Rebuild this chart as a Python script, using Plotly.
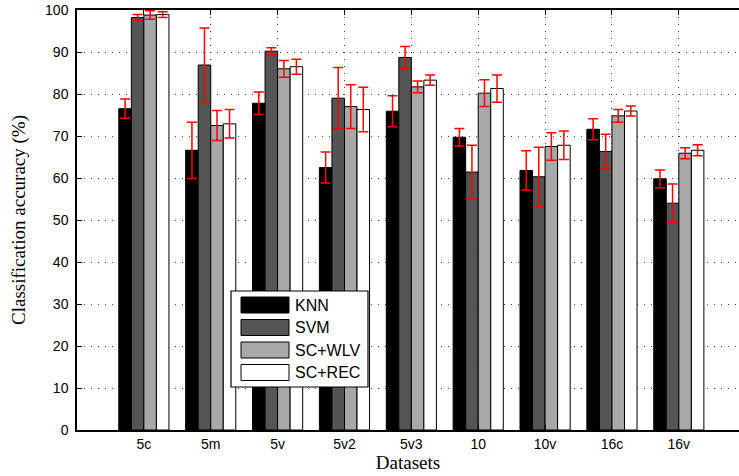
import plotly.graph_objects as go

categories = ["5c", "5m", "5v", "5v2", "5v3", "10", "10v", "16c", "16v"]
series_names = ["KNN", "SVM", "SC+WLV", "SC+REC"]

knn = [76.5, 66.6, 77.8, 62.5, 75.9, 69.7, 61.8, 71.6, 59.8]
knn_err = [2.3, 6.7, 2.7, 3.7, 3.7, 2.1, 4.7, 2.5, 2.1]
svm = [98.2, 86.9, 90.2, 79.0, 88.7, 61.4, 60.3, 66.3, 54.0]
svm_err = [0.7, 8.8, 0.8, 7.3, 2.6, 6.4, 7.0, 4.1, 4.6]
wlv = [98.8, 72.5, 86.0, 77.0, 81.7, 80.2, 67.5, 74.8, 65.9]
wlv_err = [1.0, 3.6, 2.0, 5.2, 1.4, 3.2, 3.3, 1.5, 1.3]
rec = [98.9, 72.9, 86.5, 76.3, 83.3, 81.3, 67.8, 75.95, 66.6]
rec_err = [0.7, 3.4, 1.8, 5.3, 1.2, 3.25, 3.4, 1.2, 1.3]

y_ticks = [0, 10, 20, 30, 40, 50, 60, 70, 80, 90, 100]

values = [knn, svm, wlv, rec]
errors = [knn_err, svm_err, wlv_err, rec_err]
colors = ["#000000", "#555555", "#a8a8a8", "#ffffff"]

x_pos = list(range(1, len(categories) + 1))

W, H = 739, 476
ML, MR, MT, MB = 77, 0, 10, 46
PW, PH = W - ML - MR, H - MT - MB


def px_x(p):
    return (p - ML) / PW


def px_y(p):
    return (H - MB - p) / PH


fig = go.Figure()
for name, v, e, c in zip(series_names, values, errors, colors):
    fig.add_trace(go.Bar(
        x=x_pos, y=v, name=name, showlegend=False,
        marker=dict(color=c, line=dict(color="#000000", width=1)),
        error_y=dict(type="data", array=e, symmetric=True, color="#ff0000",
                     thickness=1.5, width=5),
    ))

sans = "Liberation Sans"
serif = "Liberation Serif"

# custom legend (wide swatches as in the reference)
shapes = [dict(type="rect", xref="paper", yref="paper",
               x0=px_x(231), x1=px_x(368), y0=px_y(387), y1=px_y(291),
               fillcolor="white", line=dict(color="black", width=1.2), layer="above")]
annotations = []
row_h = 22.5
for i, (name, c) in enumerate(zip(series_names, colors)):
    top = 297 + i * row_h
    shapes.append(dict(type="rect", xref="paper", yref="paper",
                       x0=px_x(241), x1=px_x(289), y0=px_y(top + 16), y1=px_y(top),
                       fillcolor=c, line=dict(color="black", width=1), layer="above"))
    annotations.append(dict(text=name, xref="paper", yref="paper",
                            x=px_x(293), y=px_y(top + 8), xanchor="left", yanchor="middle",
                            showarrow=False, font=dict(family=sans, size=16, color="black")))

fig.update_layout(
    width=W, height=H,
    margin=dict(l=ML, r=MR, t=MT, b=MB, autoexpand=False),
    paper_bgcolor="white", plot_bgcolor="white",
    barmode="group", bargap=0.25, bargroupgap=0,
    font=dict(family=sans, size=14, color="black"),
    shapes=shapes, annotations=annotations,
    xaxis=dict(
        range=[0, 9.9], tickvals=x_pos, ticktext=categories,
        showline=True, linecolor="black", linewidth=1.5, mirror="ticks",
        ticks="inside", ticklen=5, tickcolor="black",
        showgrid=True, gridcolor="#444444", gridwidth=1, griddash="1px,6px",
        zeroline=False, automargin=False,
        title=dict(text="Datasets", font=dict(family=serif, size=19), standoff=2),
        tickfont=dict(family=sans, size=14),
    ),
    yaxis=dict(
        range=[0, 100], tickvals=y_ticks,
        showline=True, linecolor="black", linewidth=1.5, mirror=False,
        ticks="inside", ticklen=5, tickcolor="black", ticklabelstandoff=4,
        showgrid=True, gridcolor="#444444", gridwidth=1, griddash="1px,6px",
        zeroline=False, automargin=False,
        title=dict(text="Classification accuracy (%)", font=dict(family=serif, size=19), standoff=14),
        tickfont=dict(family=sans, size=14),
    ),
)

fig.write_html("out.html", post_script="document.body.style.margin='0';",
               config={"displayModeBar": False})
